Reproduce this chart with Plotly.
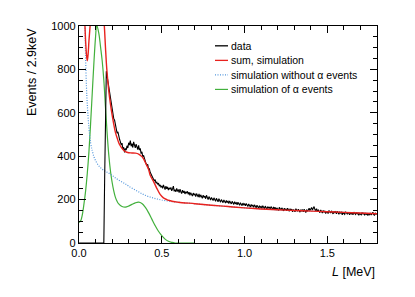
import numpy as np
import plotly.graph_objects as go

# ---------------- data ----------------
# measured spectrum, bin centres every 0.005 MeV from 0.000 to 1.800
data_L = [round(0.005 * i, 3) for i in range(361)]
data_counts = [0] * 31 + [            # 0.000-0.150: no events
    300, 640, 792, 768, 742, 716, 698, 664, 642, 618,    # 0.155-0.200
    598, 572, 566, 541, 530, 506, 512, 488, 478, 466,    # 0.205-0.250
    452, 460, 432, 441, 418, 436, 428, 448, 438, 462,    # 0.255-0.300
    451, 472, 446, 458, 440, 466, 452, 438, 456, 442,    # 0.305-0.350
    430, 450, 428, 436, 412, 420, 398, 404, 386, 382,    # 0.355-0.400
    366, 358, 362, 340, 342, 326, 318, 308, 302, 292,    # 0.405-0.450
    286, 292, 276, 280, 270, 276, 262, 268, 258, 262,    # 0.455-0.500
    252, 268, 256, 246, 262, 250, 258, 244, 254, 248,    # 0.505-0.550
    256, 240, 250, 262, 238, 246, 236, 252, 240, 244,    # 0.555-0.600
    232, 248, 236, 228, 244, 232, 240, 226, 236, 230,    # 0.605-0.650
    238, 224, 234, 220, 232, 226, 216, 230, 222, 226,    # 0.655-0.700
    214, 228, 218, 212, 226, 210, 222, 214, 206, 220,    # 0.705-0.750
    210, 216, 204, 220, 208, 200, 214, 206, 198, 210,    # 0.755-0.800
    204, 196, 208, 200, 192, 206, 198, 190, 204, 194,    # 0.805-0.850
    188, 200, 194, 186, 198, 190, 184, 196, 188, 192,    # 0.855-0.900
    182, 194, 186, 180, 192, 184, 178, 190, 182, 186,    # 0.905-0.950
    176, 188, 180, 174, 186, 178, 172, 184, 176, 180,    # 0.955-1.000
    172, 182, 174, 168, 180, 172, 166, 178, 170, 174,    # 1.005-1.050
    164, 176, 168, 162, 174, 166, 160, 172, 164, 168,    # 1.055-1.100
    160, 172, 164, 158, 170, 162, 156, 168, 160, 166,    # 1.105-1.150
    156, 168, 160, 154, 166, 158, 164, 152, 162, 158,    # 1.155-1.200
    150, 164, 156, 152, 162, 154, 148, 160, 152, 158,    # 1.205-1.250
    148, 160, 152, 146, 158, 150, 156, 144, 154, 150,    # 1.255-1.300
    144, 158, 150, 146, 156, 148, 142, 154, 148, 152,    # 1.305-1.350
    144, 156, 148, 140, 154, 146, 152, 160, 150, 156,    # 1.355-1.400
    164, 152, 160, 168, 154, 150, 158, 146, 152, 144,    # 1.405-1.450
    140, 152, 146, 138, 150, 142, 148, 136, 146, 142,    # 1.455-1.500
    136, 150, 142, 138, 148, 140, 134, 146, 140, 144,    # 1.505-1.550
    134, 146, 138, 132, 144, 138, 142, 130, 140, 136,    # 1.555-1.600
    132, 144, 136, 134, 142, 134, 130, 140, 134, 138,    # 1.605-1.650
    130, 142, 134, 132, 140, 134, 138, 128, 136, 134,    # 1.655-1.700
    130, 140, 134, 137, 128, 138, 132, 135, 126, 137,    # 1.705-1.750
    131, 138, 129, 135, 142, 131, 128, 137, 133, 135,    # 1.755-1.800
]
assert len(data_counts) == len(data_L)

# sum of simulations
sum_L = [0.025, 0.03, 0.036, 0.04, 0.045, 0.05, 0.055, 0.06, 0.067, 0.075,
         0.09, 0.11, 0.13, 0.145, 0.153, 0.16, 0.168, 0.18, 0.19, 0.20,
         0.21, 0.22, 0.23, 0.24, 0.25, 0.26, 0.27, 0.28, 0.30, 0.32,
         0.34, 0.36, 0.38, 0.39, 0.40, 0.42, 0.43, 0.45, 0.47, 0.49,
         0.51, 0.53, 0.55, 0.57, 0.60, 0.70, 0.80, 0.90, 1.00, 1.10,
         1.20, 1.30, 1.40, 1.50, 1.60, 1.70, 1.80]
sum_counts = [1150, 1080, 1000, 930, 870, 840, 870, 930, 1000, 1100,
              1200, 1250, 1200, 1080, 1000, 900, 800, 700, 640, 590,
              547, 510, 485, 462, 447, 436, 427, 421, 416, 415,
              414, 410, 398, 388, 372, 340, 312, 284, 252, 224,
              208, 200, 195, 191, 188, 181, 174, 168, 162, 157,
              153, 150, 147, 144, 141, 138, 135]

# simulation without alpha events
noalpha_L = [0.03, 0.036, 0.04, 0.045, 0.05, 0.06, 0.07, 0.08, 0.09, 0.10,
             0.12, 0.14, 0.16, 0.18, 0.20, 0.22, 0.25, 0.28, 0.30, 0.35,
             0.40, 0.45, 0.50, 0.55, 0.60, 0.70, 0.80, 0.90, 1.00, 1.10,
             1.20, 1.30, 1.40, 1.50, 1.60, 1.70, 1.80]
noalpha_counts = [1200, 1000, 850, 720, 640, 530, 462, 425, 398, 380,
                  355, 340, 330, 322, 312, 300, 285, 272, 262, 240,
                  220, 207, 198, 192, 188, 181, 174, 168, 162, 157,
                  153, 150, 147, 144, 141, 138, 135]

# simulation of alpha events
alpha_L = [0.00, 0.01, 0.02, 0.03, 0.04, 0.05, 0.06, 0.07, 0.08, 0.09,
           0.10, 0.107, 0.12, 0.13, 0.14, 0.15, 0.16, 0.17, 0.18, 0.19,
           0.20, 0.21, 0.22, 0.23, 0.24, 0.26, 0.28, 0.30, 0.32, 0.34,
           0.36, 0.38, 0.40, 0.42, 0.44, 0.46, 0.48, 0.50, 0.52, 0.54,
           0.56, 0.58, 0.70]
alpha_counts = [95, 102, 130, 180, 240, 320, 420, 550, 690, 830,
                950, 1005, 965, 905, 840, 750, 625, 505, 405, 332,
                280, 240, 210, 192, 180, 168, 165, 170, 178, 185,
                188, 182, 165, 140, 110, 80, 54, 34, 18, 8,
                3, 0, 0]

x_ticks = [0.0, 0.5, 1.0, 1.5]
x_tick_text = ["0.0", "0.5", "1.0", "1.5"]
y_ticks = [0, 200, 400, 600, 800, 1000]
y_tick_text = ["0", "200", "400", "600", "800", "1000"]

legend_labels = ["data", "sum, simulation",
                 "simulation without \u03b1 events", "simulation of \u03b1 events"]

# ---------------- styling ----------------
# page body has an 8 px default margin, so the figure is offset by 8 px
OFF = 8
W, H = 415 - OFF, 297 - OFF
L_M, R_M, T_M, B_M = 79 - OFF, 38, 24 - OFF, 54
FONT = "Liberation Sans, Arial, Helvetica, sans-serif"

C_DATA = "#000000"
C_SUM = "#e8221e"
C_NOA = "#5296dc"
C_ALPHA = "#42b03c"

fig = go.Figure()
fig.add_trace(go.Scatter(x=alpha_L, y=alpha_counts, mode="lines", line_shape="spline",
                         line=dict(color=C_ALPHA, width=1.2), name=legend_labels[3],
                         showlegend=False))
fig.add_trace(go.Scatter(x=noalpha_L, y=noalpha_counts, mode="lines", line_shape="spline",
                         line=dict(color=C_NOA, width=1.2, dash="1px,1.5px"), name=legend_labels[2],
                         showlegend=False))
fig.add_trace(go.Scatter(x=data_L, y=data_counts, mode="lines",
                         line=dict(color=C_DATA, width=1.1), name=legend_labels[0],
                         showlegend=False))
fig.add_trace(go.Scatter(x=sum_L, y=sum_counts, mode="lines", line_shape="spline",
                         line=dict(color=C_SUM, width=1.4), name=legend_labels[1],
                         showlegend=False))

axis_common = dict(
    showline=True, linecolor="black", linewidth=1.3, mirror="ticks",
    ticks="inside", ticklen=7, tickwidth=1, tickcolor="black",
    showgrid=False, zeroline=False,
    tickfont=dict(family=FONT, size=11, color="black"),
)
fig.update_xaxes(range=[0, 1.8], tickvals=x_ticks, ticktext=x_tick_text,
                 minor=dict(dtick=0.1, tick0=0, ticks="inside", ticklen=4,
                            tickcolor="black", tickwidth=1),
                 **axis_common)
fig.update_yaxes(range=[0, 1000], tickvals=y_ticks, ticktext=y_tick_text,
                 minor=dict(dtick=50, tick0=0, ticks="inside", ticklen=4,
                            tickcolor="black", tickwidth=1),
                 **axis_common)

# manual legend (short line samples like the original); positions in page px
pw = W - L_M - R_M
ph = H - T_M - B_M
def px_x(px):
    return (px - OFF - L_M) / pw
def px_y(py):
    return 1 - (py - OFF - T_M) / ph

leg_rows = [44, 58.7, 73.3, 88]
leg_styles = [(C_DATA, "solid", 1.3), (C_SUM, "solid", 1.3),
              (C_NOA, "1px,1.5px", 1.2), (C_ALPHA, "solid", 1.2)]
shapes = []
annotations = []
for lab, yrow, (col, dash, w) in zip(legend_labels, leg_rows, leg_styles):
    shapes.append(dict(type="line", xref="paper", yref="paper",
                       x0=px_x(215), x1=px_x(228), y0=px_y(yrow), y1=px_y(yrow),
                       line=dict(color=col, width=w, dash=dash)))
    annotations.append(dict(text=lab, xref="paper", yref="paper",
                            x=px_x(229), y=px_y(yrow), xanchor="left", yanchor="middle",
                            showarrow=False, font=dict(family=FONT, size=10.5, color="black")))

annotations.append(dict(text="<i>L</i> [MeV]", xref="paper", yref="paper",
                        x=px_x(377), y=px_y(272), xanchor="right", yanchor="middle",
                        showarrow=False, font=dict(family=FONT, size=12.5, color="black")))
annotations.append(dict(text="Events / 2.9keV", xref="paper", yref="paper",
                        x=px_x(32), y=px_y(24), xanchor="center", yanchor="top",
                        textangle=-90, showarrow=False,
                        font=dict(family=FONT, size=12.5, color="black")))

fig.update_layout(
    width=W, height=H,
    margin=dict(l=L_M, r=R_M, t=T_M, b=B_M, pad=0),
    paper_bgcolor="white", plot_bgcolor="white",
    showlegend=False,
    shapes=shapes, annotations=annotations,
    font=dict(family=FONT, size=11, color="black"),
)

fig.write_html("out.html")
